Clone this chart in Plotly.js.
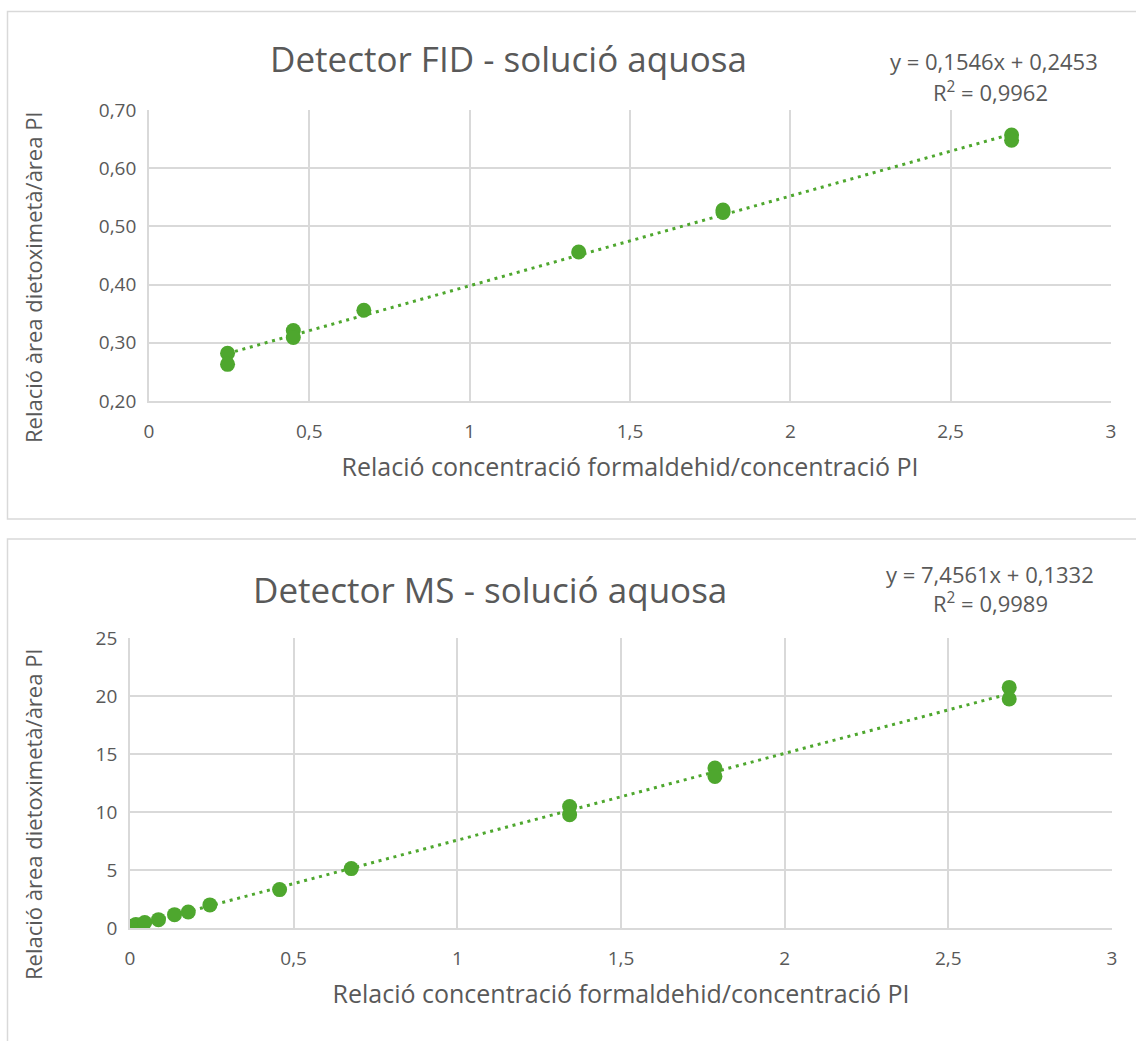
<!DOCTYPE html>
<html>
<head>
<meta charset="utf-8">
<script src="https://cdn.plot.ly/plotly-3.0.1.min.js"></script>
<style>html,body{margin:0;padding:0;background:#fff;}#chart{width:1136px;height:1041px;}</style>
</head>
<body>
<div id="chart"></div>
<script>
// ---- Data ----
var fidTitle = "Detector FID - solució aquosa";
var msTitle = "Detector MS - solució aquosa";
var xAxisTitle = "Relació concentració formaldehid/concentració PI";
var yAxisTitle = "Relació àrea dietoximetà/àrea PI";

var fidX = [0.245, 0.245, 0.45, 0.45, 0.67, 1.34, 1.79, 1.79, 2.69, 2.69];
var fidY = [0.282, 0.263, 0.321, 0.309, 0.356, 0.456, 0.528, 0.524, 0.657, 0.648];
var fidEquation = "y = 0,1546x + 0,2453";
var fidR2 = "R<sup>2</sup> = 0,9962";

var msX = [0.009, 0.018, 0.045, 0.087, 0.136, 0.178, 0.244, 0.457, 0.676, 1.343, 1.343, 1.787, 1.787, 2.686, 2.686];
var msY = [0.18, 0.30, 0.48, 0.72, 1.15, 1.38, 1.99, 3.31, 5.12, 10.47, 9.77, 13.79, 13.07, 20.74, 19.74];
var msEquation = "y = 7,4561x + 0,1332";
var msR2 = "R<sup>2</sup> = 0,9989";

var xTicks = [0, 0.5, 1, 1.5, 2, 2.5, 3];
var fidYTicks = [0.2, 0.3, 0.4, 0.5, 0.6, 0.7];
var msYTicks = [0, 5, 10, 15, 20, 25];

// ---- Linear least-squares trendline from the data ----
function fitLine(xs, ys) {
  var n = xs.length, sx = 0, sy = 0, sxx = 0, sxy = 0;
  for (var i = 0; i < n; i++) { sx += xs[i]; sy += ys[i]; sxx += xs[i]*xs[i]; sxy += xs[i]*ys[i]; }
  var m = (n*sxy - sx*sy) / (n*sxx - sx*sx);
  var b = (sy - m*sx) / n;
  var xmin = Math.min.apply(null, xs), xmax = Math.max.apply(null, xs);
  return {x: [xmin, xmax], y: [m*xmin + b, m*xmax + b]};
}
var fidFit = fitLine(fidX, fidY);
var msFit = fitLine(msX, msY);

var W = 1136, H = 1041;
function px(x) { return x / W; }
function py(y) { return 1 - y / H; }

var green = '#4EA72E';
var grey = '#595959';
var grid = '#D9D9D9';
var fontFam = '"Open Sans", "Noto Sans", sans-serif';

var traces = [
  {x: fidFit.x, y: fidFit.y, type: 'scatter', mode: 'lines', xaxis: 'x', yaxis: 'y',
   line: {color: green, width: 3, dash: '3px,4.7px'}, hoverinfo: 'skip', showlegend: false},
  {x: fidX, y: fidY, type: 'scatter', mode: 'markers', xaxis: 'x', yaxis: 'y',
   marker: {color: green, size: 15}, showlegend: false},
  {x: msFit.x, y: msFit.y, type: 'scatter', mode: 'lines', xaxis: 'x2', yaxis: 'y2',
   line: {color: green, width: 3, dash: '3px,4.7px'}, hoverinfo: 'skip', showlegend: false},
  {x: msX, y: msY, type: 'scatter', mode: 'markers', xaxis: 'x2', yaxis: 'y2',
   marker: {color: green, size: 15}, showlegend: false}
];

function xAxis(domain, anchor) {
  return {
    domain: domain, anchor: anchor, range: [0, 3], tickvals: xTicks,
    showgrid: true, gridcolor: grid, gridwidth: 1.8,
    showline: true, linecolor: grid, linewidth: 1.8, zeroline: false,
    ticks: '', ticklabelstandoff: 12, tickfont: {size: 19, color: grey, family: fontFam},
    title: {text: xAxisTitle, font: {size: 25, color: grey, family: fontFam}, standoff: 16}
  };
}
function yAxis(domain, anchor, range, ticks, fmt) {
  return {
    domain: domain, anchor: anchor, range: range, tickvals: ticks, tickformat: fmt,
    showgrid: true, gridcolor: grid, gridwidth: 1.8,
    showline: true, linecolor: grid, linewidth: 1.8, zeroline: false,
    ticks: '', ticklabelstandoff: 7, tickfont: {size: 19, color: grey, family: fontFam}
  };
}

function yTitle(yc) {
  return {text: yAxisTitle, xref: 'paper', yref: 'paper', x: px(33), y: py(yc), xanchor: 'center', yanchor: 'middle',
          textangle: -90, showarrow: false, font: {size: 22, color: grey, family: fontFam}};
}
function label(text, x, y, size) {
  return {text: text, xref: 'paper', yref: 'paper', x: px(x), y: py(y), xanchor: 'center', yanchor: 'middle',
          showarrow: false, font: {size: size, color: grey, family: fontFam}};
}

var layout = {
  width: W, height: H,
  margin: {l: 0, r: 0, t: 0, b: 0},
  paper_bgcolor: '#fff', plot_bgcolor: '#fff',
  separators: ', ',
  font: {family: fontFam, color: grey},
  showlegend: false,
  xaxis: xAxis([px(149), px(1111)], 'y'),
  yaxis: yAxis([py(401), py(110)], 'x', [0.2, 0.7], fidYTicks, '.2f'),
  xaxis2: xAxis([px(130), px(1112)], 'y2'),
  yaxis2: yAxis([py(928), py(638)], 'x2', [0, 25], msYTicks, ''),
  shapes: [
    {type: 'rect', xref: 'paper', yref: 'paper', x0: px(7.5), x1: 1.05, y0: py(519), y1: py(11.5),
     line: {color: grid, width: 1.5}, fillcolor: 'rgba(0,0,0,0)', layer: 'below'},
    {type: 'rect', xref: 'paper', yref: 'paper', x0: px(7.5), x1: 1.05, y0: -0.05, y1: py(539),
     line: {color: grid, width: 1.5}, fillcolor: 'rgba(0,0,0,0)', layer: 'below'}
  ],
  annotations: [
    label(fidTitle, 508, 58, 35),
    label(fidEquation, 994, 61, 22),
    label(fidR2, 990, 91, 22),
    yTitle(277),
    label(msTitle, 490, 589, 35),
    label(msEquation, 990, 574, 22),
    label(msR2, 990, 602, 22),
    yTitle(814)
  ]
};

Plotly.newPlot('chart', traces, layout, {displayModeBar: false});
</script>
</body>
</html>
